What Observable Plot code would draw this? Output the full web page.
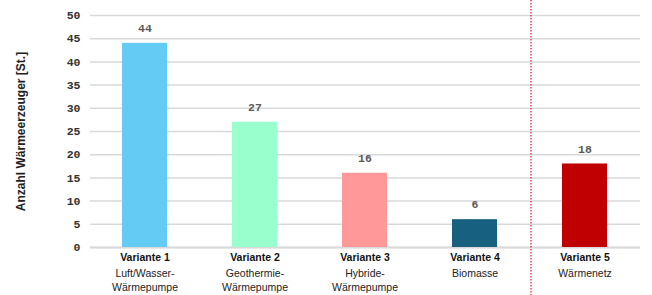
<!DOCTYPE html>
<html><head><meta charset="utf-8">
<script src="https://cdn.jsdelivr.net/npm/d3@7"></script>
<script src="https://cdn.jsdelivr.net/npm/@observablehq/plot@0.6"></script>
<style>body{margin:0;background:#fff}</style>
</head><body><div id="chart"></div>
<script>
const categories = ["Variante 1", "Variante 2", "Variante 3", "Variante 4", "Variante 5"];
const descriptions = ["Luft/Wasser-\nWärmepumpe", "Geothermie-\nWärmepumpe", "Hybride-\nWärmepumpe", "Biomasse", "Wärmenetz"];
const values = [44, 27, 16, 6, 18];
const colors = ["#63cbf4", "#99ffcc", "#ff9999", "#17607f", "#c00000"];
const yTicks = [0, 5, 10, 15, 20, 25, 30, 35, 40, 45, 50];
const yLabel = "Anzahl Wärmeerzeuger [St.]";
const separatorBefore = ["Variante 5"];

const data = categories.map((c, i) => ({cat: c, desc: descriptions[i], value: values[i]}));
const mono = "'Liberation Mono', 'DejaVu Sans Mono', monospace";
const sans = "'Liberation Sans', Arial, sans-serif";

const chart = Plot.plot({
  width: 652, height: 295,
  marginLeft: 90, marginRight: 12, marginTop: 15, marginBottom: 48,
  x: {domain: categories, paddingInner: 0.59, paddingOuter: 0.295, axis: null},
  y: {domain: [0, 50], axis: null},
  color: {domain: categories, range: colors},
  marks: [
    Plot.gridY(yTicks, {stroke: "#d9d9d9", strokeOpacity: 1, strokeWidth: 1.5}),
    Plot.ruleY([0], {stroke: "#d9d9d9", strokeWidth: 2}),
    Plot.axisY(yTicks, {tickSize: 0, tickPadding: 10, fontFamily: mono, fontWeight: "bold", fontSize: 11.5, color: "#333", label: null}),
    Plot.axisY({ticks: [], label: yLabel, labelAnchor: "center", labelOffset: 74, labelArrow: "none", fontFamily: sans, fontWeight: "bold", fontSize: 12, color: "#222"}),
    Plot.barY(data, {x: "cat", y: "value", fill: "cat"}),
    Plot.text(data, {x: "cat", y: "value", text: d => String(d.value), dy: -15, fontFamily: mono, fontWeight: "bold", fontSize: 11.5, fill: "#595959"}),
    Plot.text(data, {x: "cat", y: 0, text: "cat", dy: 6, lineAnchor: "top", fontFamily: sans, fontWeight: "bold", fontSize: 10.5, fill: "#111"}),
    Plot.text(data, {x: "cat", y: 0, text: "desc", dy: 20, lineAnchor: "top", lineHeight: 1.3, fontFamily: sans, fontSize: 10.5, fill: "#222"}),
    Plot.ruleX(separatorBefore, {x: d => d, dx: -54, insetTop: -15, insetBottom: -48, stroke: "#e31a1c", strokeWidth: 1.2, strokeDasharray: "1.5,1.5"})
  ]
});
document.getElementById("chart").appendChild(chart);
</script>
</body></html>
